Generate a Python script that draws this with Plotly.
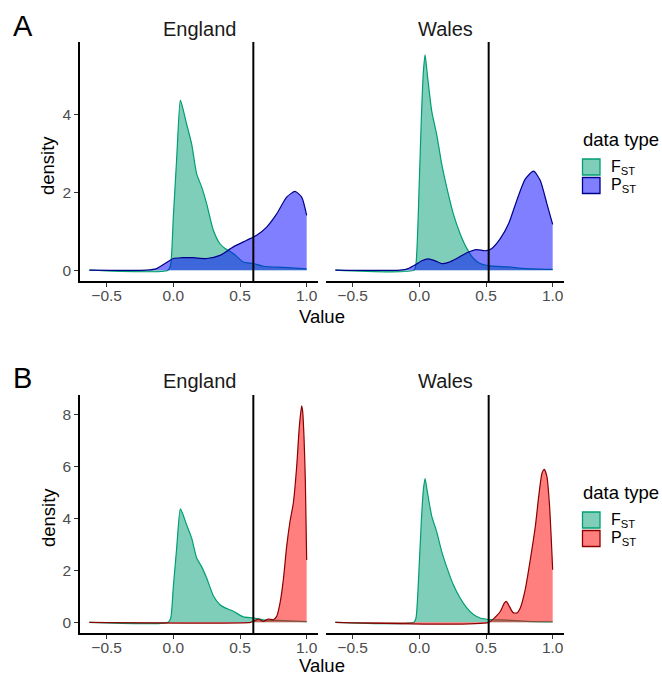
import plotly.graph_objects as go

# ---------------- data ----------------
countries = ["England", "Wales"]
panels = ["A", "B"]
vline_x = {"England": 0.60, "Wales": 0.52}

fst_england_x = [-0.63, -0.04, -0.02, 0.0, 0.025, 0.0525, 0.07, 0.10, 0.1375, 0.175, 0.213, 0.25, 0.30, 0.35, 0.388, 0.45, 0.525, 0.60, 0.675, 0.825, 1.0]
fst_england_y = [0, 0, 0.15, 1.37, 2.87, 4.38, 4.19, 3.76, 3.25, 2.48, 2.14, 1.71, 1.03, 0.68, 0.56, 0.43, 0.21, 0.17, 0.10, 0.07, 0.03]

fst_wales_x = [-0.63, -0.04, -0.025, 0.0, 0.015, 0.03, 0.043, 0.06, 0.093, 0.13, 0.168, 0.205, 0.255, 0.306, 0.356, 0.406, 0.456, 0.53, 0.657, 0.807, 1.0]
fst_wales_y = [0, 0, 0.17, 2.3, 3.9, 5.1, 5.55, 5.04, 4.1, 3.5, 2.73, 2.14, 1.45, 0.94, 0.56, 0.30, 0.17, 0.11, 0.085, 0.04, 0.02]

pst_a_england_x = [-0.63, -0.2, -0.125, -0.0625, 0.0, 0.0625, 0.15, 0.25, 0.35, 0.45, 0.55, 0.625, 0.7, 0.775, 0.85, 0.9125, 0.9625, 1.0]
pst_a_england_y = [0, 0, 0.04, 0.17, 0.30, 0.32, 0.32, 0.30, 0.38, 0.60, 0.77, 0.90, 1.11, 1.45, 1.88, 2.03, 1.88, 1.41]

pst_a_wales_x = [-0.63, -0.145, -0.083, -0.033, 0.018, 0.068, 0.118, 0.168, 0.218, 0.28, 0.356, 0.43, 0.494, 0.544, 0.607, 0.67, 0.73, 0.795, 0.857, 0.907, 0.957, 1.0]
pst_a_wales_y = [0, 0, 0.04, 0.13, 0.24, 0.29, 0.24, 0.17, 0.20, 0.30, 0.45, 0.53, 0.50, 0.56, 0.81, 1.20, 1.79, 2.35, 2.55, 2.31, 1.71, 1.18]

pst_b_england_x = [-0.63, 0.58, 0.6, 0.6375, 0.675, 0.7125, 0.75, 0.775, 0.80, 0.825, 0.85, 0.875, 0.90, 0.925, 0.945, 0.9625, 0.97, 0.98, 0.99, 1.0]
pst_b_england_y = [0, 0, 0.04, 0.13, 0.04, 0.13, 0.10, 0.23, 0.74, 1.64, 2.93, 3.89, 4.6, 6.0, 7.55, 8.35, 8.13, 7.16, 5.49, 2.41]

pst_b_wales_x = [-0.63, 0.52, 0.569, 0.607, 0.637, 0.652, 0.669, 0.702, 0.732, 0.757, 0.794, 0.832, 0.870, 0.895, 0.920, 0.937, 0.957, 0.977, 1.0]
pst_b_wales_y = [0, 0, 0.2, 0.42, 0.74, 0.81, 0.68, 0.385, 0.36, 0.55, 1.26, 2.41, 3.7, 4.85, 5.75, 5.9, 5.62, 4.47, 2.03]

x_tickvals = [-0.5, 0.0, 0.5, 1.0]
x_ticktext = ["\u22120.5", "0.0", "0.5", "1.0"]
y_ticks_a = [0, 2, 4]
y_ticks_b = [0, 2, 4, 6, 8]
legend_title = "data type"
legend_labels = ["F<sub>ST</sub>", "P<sub>ST</sub>"]

# ---------------- styles ----------------
W, H = 662, 675
FONT = "Liberation Sans, Arial, sans-serif"
green_line, green_fill = "#009E73", "rgba(0,158,115,0.5)"
pst_style = {
    "A": ("#00008B", "rgba(0,0,255,0.5)"),
    "B": ("#8B0000", "rgba(255,0,0,0.5)"),
}

def pxx(x):
    return x / W

def pxy(y):
    return 1 - y / H

x_dom = {"England": [pxx(80), pxx(318)], "Wales": [pxx(326), pxx(564)]}
y_dom = {"A": [pxy(281), pxy(42)], "B": [pxy(633), pxy(395)]}
y_rng = {"A": [-0.28, 5.88], "B": [-0.41, 8.77]}
y_tk = {"A": y_ticks_a, "B": y_ticks_b}

fst = {"England": (fst_england_x, fst_england_y), "Wales": (fst_wales_x, fst_wales_y)}
pst = {
    ("A", "England"): (pst_a_england_x, pst_a_england_y),
    ("A", "Wales"): (pst_a_wales_x, pst_a_wales_y),
    ("B", "England"): (pst_b_england_x, pst_b_england_y),
    ("B", "Wales"): (pst_b_wales_x, pst_b_wales_y),
}

fig = go.Figure()
layout = {}
shapes = []
annotations = []

idx = 0
for p in panels:
    for c in countries:
        idx += 1
        sfx = "" if idx == 1 else str(idx)
        xa, ya = "x" + sfx, "y" + sfx
        fx, fy = fst[c]
        fig.add_trace(go.Scatter(x=fx, y=fy, xaxis=xa, yaxis=ya, mode="lines",
                                 line=dict(color=green_line, width=1.2, shape="spline", smoothing=0.6),
                                 fill="tozeroy", fillcolor=green_fill, showlegend=False, hoverinfo="skip"))
        lc, fc = pst_style[p]
        qx, qy = pst[(p, c)]
        fig.add_trace(go.Scatter(x=qx, y=qy, xaxis=xa, yaxis=ya, mode="lines",
                                 line=dict(color=lc, width=1.2, shape="spline", smoothing=0.6),
                                 fill="tozeroy", fillcolor=fc, showlegend=False, hoverinfo="skip"))
        layout["xaxis" + sfx] = dict(
            domain=x_dom[c], anchor=ya, range=[-0.70, 1.085], showgrid=False, zeroline=False,
            showline=True, linecolor="black", linewidth=1.5,
            tickvals=x_tickvals, ticktext=x_ticktext, ticks="outside", ticklen=4,
            tickcolor="#333333", tickwidth=1, ticklabelstandoff=-4,
            tickfont=dict(family=FONT, size=15.5, color="#4d4d4d"))
        first = c == "England"
        layout["yaxis" + sfx] = dict(
            domain=y_dom[p], anchor=xa, range=y_rng[p], showgrid=False, zeroline=False,
            showline=first, linecolor="black", linewidth=1.5,
            tickvals=y_tk[p], ticks="outside" if first else "", ticklen=4,
            tickcolor="#333333", tickwidth=1, showticklabels=first,
            tickfont=dict(family=FONT, size=15.5, color="#4d4d4d"))
        shapes.append(dict(type="line", xref=xa, yref=ya + " domain", x0=vline_x[c], x1=vline_x[c],
                           y0=0, y1=1, line=dict(color="black", width=2)))
        # facet strip title
        ystrip = 29 if p == "A" else 381
        annotations.append(dict(text=c, xref="paper", yref="paper",
                                x=(x_dom[c][0] + x_dom[c][1]) / 2, y=pxy(ystrip),
                                showarrow=False, xanchor="center", yanchor="middle",
                                font=dict(family=FONT, size=20, color="#1a1a1a")))

# panel labels, axis titles
for p, ylet, yval, ydens in [("A", 26, 316, 166), ("B", 378, 665, 518)]:
    annotations.append(dict(text=p, xref="paper", yref="paper", x=pxx(11), y=pxy(ylet),
                            showarrow=False, xanchor="left", yanchor="middle",
                            font=dict(family=FONT, size=29, color="black")))
    annotations.append(dict(text="Value", xref="paper", yref="paper", x=pxx(321.5), y=pxy(yval),
                            showarrow=False, xanchor="center", yanchor="middle",
                            font=dict(family=FONT, size=18.5, color="black")))
    annotations.append(dict(text="density", xref="paper", yref="paper", x=pxx(48), y=pxy(ydens),
                            showarrow=False, xanchor="center", yanchor="middle", textangle=-90,
                            font=dict(family=FONT, size=18.5, color="black")))

# legends (one per panel)
for p, ytitle, ykey in [("A", 139, 158), ("B", 492, 511)]:
    lc, fc = pst_style[p]
    annotations.append(dict(text=legend_title, xref="paper", yref="paper", x=pxx(581), y=pxy(ytitle),
                            showarrow=False, xanchor="left", yanchor="middle",
                            font=dict(family=FONT, size=18.5, color="black")))
    for i, (lab, (kl, kf)) in enumerate(zip(legend_labels, [(green_line, green_fill), (lc, fc)])):
        y0 = ykey + i * 18.5
        shapes.append(dict(type="rect", xref="paper", yref="paper",
                           x0=pxx(582.5), x1=pxx(600), y0=pxy(y0 + 1), y1=pxy(y0 + 17),
                           line=dict(color=kl, width=1.3), fillcolor=kf))
        annotations.append(dict(text=lab, xref="paper", yref="paper", x=pxx(609), y=pxy(y0 + 9),
                                showarrow=False, xanchor="left", yanchor="middle",
                                font=dict(family=FONT, size=16, color="black")))

fig.update_layout(width=W, height=H, margin=dict(l=0, r=0, t=0, b=0),
                  paper_bgcolor="white", plot_bgcolor="white",
                  shapes=shapes, annotations=annotations, showlegend=False, **layout)

fig.write_html("out.html", config={"displayModeBar": False},
               post_script="document.body.style.margin='0px';document.body.style.overflow='hidden';")
